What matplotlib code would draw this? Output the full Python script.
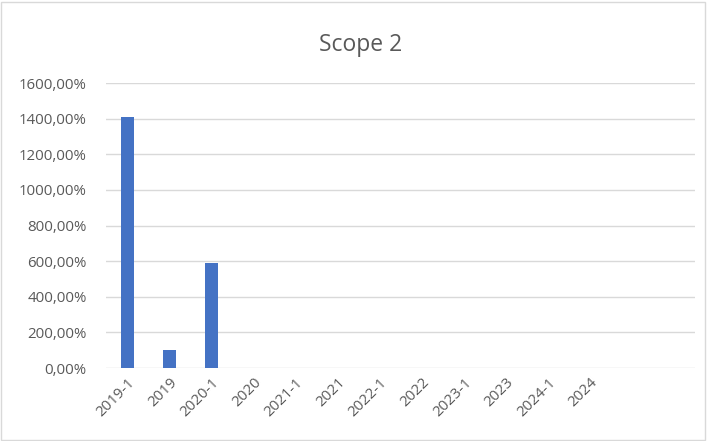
import numpy as np
import matplotlib.pyplot as plt
from matplotlib.patches import Rectangle
from matplotlib.ticker import FuncFormatter

# data (share, 1.0 = 100 %)
periods = ['2019-1', '2019', '2020-1', '2020', '2021-1', '2021',
           '2022-1', '2022', '2023-1', '2023', '2024-1', '2024', '', '']
scope2 = [14.10, 1.00, 5.88, 0, 0, 0, 0, 0, 0, 0, 0, 0, 0, 0]

plt.rcParams['font.family'] = ['Open Sans', 'DejaVu Sans']

fig = plt.figure(figsize=[7.08, 4.41], dpi=100)
fig.patches.append(Rectangle((0.002, 0.002), 0.994, 0.994, transform=fig.transFigure,
                             fill=False, edgecolor='#d9d9d9', linewidth=1))
ax = fig.add_axes([0.150, 0.1655, 0.832, 0.646])

x = np.arange(len(periods))
ax.bar(x, scope2, width=0.32, color='#4472c4', zorder=3)

ax.set_xlim(-0.5, len(periods) - 0.5)
ax.set_ylim(0, 16)
ax.set_yticks(np.arange(0, 16.1, 2))
ax.yaxis.set_major_formatter(FuncFormatter(lambda v, p: f'{v*100:.2f}%'.replace('.', ',')))
ax.grid(axis='y', color='#d9d9d9', linewidth=1, zorder=0)

for s in ax.spines.values():
    s.set_visible(False)
ax.tick_params(length=0, labelsize=10.8, labelcolor='#595959')
ax.tick_params(axis='y', pad=14)

ax.set_xticks(x)
ax.set_xticklabels(periods, rotation=45, ha='right', rotation_mode='anchor')
ax.tick_params(axis='x', pad=5)

fig.text(0.509, 0.898, 'Scope 2', ha='center', va='center', fontsize=16.5, color='#595959')

plt.savefig('out.png', dpi=100)
